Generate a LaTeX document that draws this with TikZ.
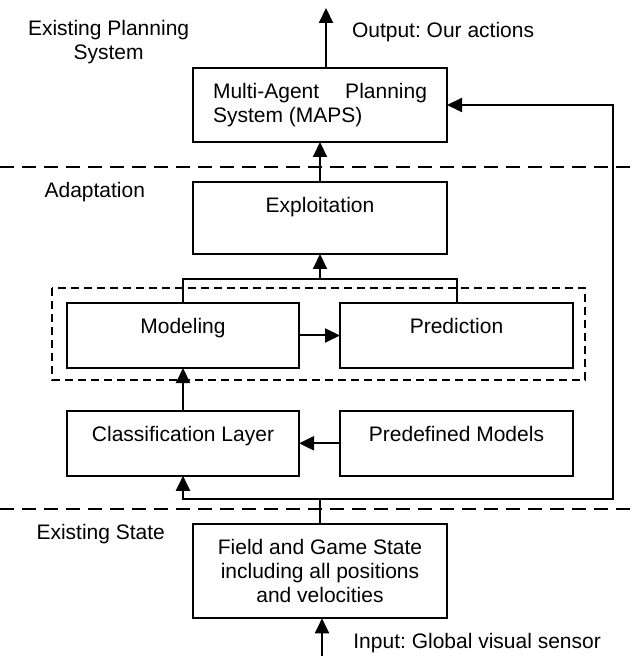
\documentclass[tikz,border=0pt]{standalone}
\usepackage{fontspec}
\setmainfont{Liberation Sans}
\usetikzlibrary{arrows.meta,calc}
\newcommand{\btext}[3]{\parbox[c][#1][t]{#2}{\centering\rule{0pt}{15.25pt}#3}}
\frenchspacing
\begin{document}
\begin{tikzpicture}[x=0.5pt,y=-0.5pt, line width=1pt,
  box/.style={draw, inner sep=0pt, outer sep=0pt},
  arr/.style={-{Triangle[length=7.5pt,width=7pt]}},
  lbl/.style={inner sep=0pt, anchor=base west},
  sep/.style={dash pattern=on 7pt off 4pt},
  grp/.style={dash pattern=on 4pt off 2.5pt},
  font=\fontsize{10.5}{12}\selectfont]
\useasboundingbox (0,0) rectangle (633,656);

% boxes
\node[box] (maps) at (320,105) {\parbox[c][37pt][t]{127pt}{\centering\rule{0pt}{15.25pt}\makebox[107pt][s]{Multi-Agent Planning}\\\makebox[107pt][l]{System (MAPS)}}};
\node[box] (expl) at (320,218) {\btext{36pt}{127pt}{Exploitation}};
\node[box] (model) at (183,335.5) {\btext{32.5pt}{116pt}{Modeling}};
\node[box] (pred) at (456.5,335.5) {\btext{32.5pt}{116.5pt}{Prediction}};
\node[box] (class) at (183,443.3) {\btext{32.5pt}{116pt}{Classification Layer}};
\node[box] (predef) at (456.5,443.3) {\btext{32.5pt}{116.5pt}{Predefined Models}};
\node[box] (field) at (320,571.3) {\btext{47pt}{127pt}{Field and Game State\\including all positions\\and velocities}};

% labels
\node[inner sep=0pt, align=center] (eps) at (108.6,42) {Existing Planning\\System};
\node[lbl] (outl) at (351,38) {Output: Our actions};
\node[lbl] (adapt) at (43.6,198) {Adaptation};
\node[lbl] (exst) at (35.5,539.5) {Existing State};
\node[lbl] (inl) at (352.4,648) {Input: Global visual sensor};

% separators and group
\draw[sep] (0,166.7) -- (633,166.7);
\draw[sep] (0,509) -- (633,509);
\draw[grp] (52,288.5) rectangle (585.4,379.5);

% connectors
\coordinate (outtip) at (326,8);
\draw[arr] (maps.north -| outtip) -- (outtip);
\draw[arr] (expl) -- (maps);
\coordinate (join) at (320,279);
\draw (model.north) |- (join) -| (pred.north);
\draw[arr] (join) -- (expl.south);
\draw[arr] (model) -- (pred);
\draw[arr] (class) -- (model);
\draw[arr] (predef) -- (class);
\coordinate (split) at (320,499);
\coordinate (loop) at (612.5,499);
\draw (field.north) -- (split);
\draw[arr] (split) -| (class.south);
\draw[arr] (split) -- (loop) |- (maps.east);
\coordinate (insrc) at (322,656);
\draw[arr] (insrc) -- (insrc |- field.south);
\end{tikzpicture}
\end{document}
